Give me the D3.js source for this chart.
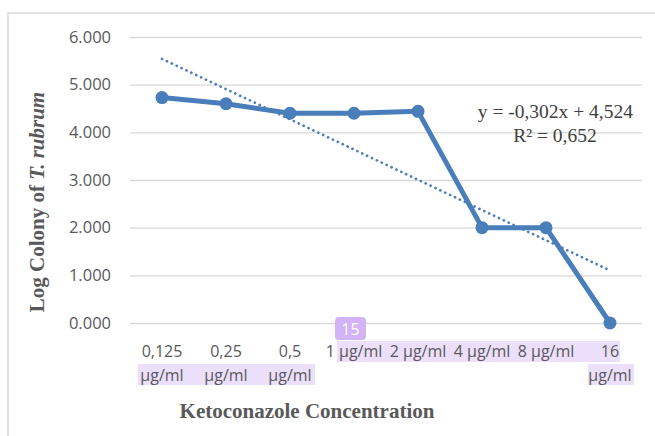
<!DOCTYPE html>
<html lang="en">
<head>
<meta charset="utf-8">
<title>Log Colony of T. rubrum</title>
<script src="https://d3js.org/d3.v7.min.js"></script>
<style>
  body { margin: 0; background: #fff; }
  svg { display: block; }
</style>
</head>
<body>
<script>
// chart data
var categories = ["0,125 µg/ml", "0,25 µg/ml", "0,5 µg/ml", "1 µg/ml", "2 µg/ml", "4 µg/ml", "8 µg/ml", "16 µg/ml"];
var tickLines = [["0,125", "µg/ml"], ["0,25", "µg/ml"], ["0,5", "µg/ml"], ["1 µg/ml"], ["2 µg/ml"], ["4 µg/ml"], ["8 µg/ml"], ["16", "µg/ml"]];
var logColony = [4.73, 4.60, 4.40, 4.40, 4.44, 2.00, 2.00, 0.00];
var yTicks = [0, 1, 2, 3, 4, 5, 6];
var equationText = "y = -0,302x + 4,524";
var r2Text = "R² = 0,652";

var w = 655, h = 436;
var margin = {left: 130, right: 13, top: 37, bottom: 113};

var svg = d3.select("body").append("svg")
  .attr("width", w).attr("height", h);

// outer chart frame
svg.append("rect")
  .attr("x", 8).attr("y", 13)
  .attr("width", 700).attr("height", 500)
  .attr("fill", "none")
  .attr("stroke", "#d9d9d9")
  .attr("stroke-width", 1.5);

var x = d3.scaleBand()
  .domain(categories)
  .range([margin.left, w - margin.right]);

var y = d3.scaleLinear()
  .domain([0, 6])
  .range([h - margin.bottom, margin.top]);

// gridlines + y labels
var yAxis = d3.axisLeft(y)
  .tickValues(yTicks)
  .tickSize(-(w - margin.right - margin.left))
  .tickPadding(19)
  .tickFormat(d3.format(".3f"));

var gy = svg.append("g")
  .attr("transform", "translate(" + margin.left + ",0)")
  .call(yAxis);
gy.select(".domain").remove();
gy.selectAll(".tick line").attr("stroke", "#d9d9d9").attr("stroke-width", 1.3);
gy.selectAll(".tick text")
  .attr("fill", "#595959")
  .style("font-family", "'Open Sans', sans-serif")
  .style("font-size", "16.5px");

// selection highlights behind the category labels (as in the source picture)
var hl = svg.append("g").attr("fill", "#ecdffc");
hl.append("rect").attr("x", 337).attr("y", 341).attr("width", 283).attr("height", 21);
hl.append("rect").attr("x", 138).attr("y", 364).attr("width", 177).attr("height", 21);
hl.append("rect").attr("x", 588).attr("y", 364).attr("width", 46).attr("height", 21);

// category labels
var gx = svg.append("g")
  .attr("fill", "#595959")
  .style("font-family", "'Open Sans', sans-serif")
  .style("font-size", "16px")
  .attr("text-anchor", "middle");

gx.selectAll("text")
  .data(categories)
  .enter().append("text")
  .attr("x", function(d) { return x(d) + x.bandwidth() / 2; })
  .attr("y", 357)
  .each(function(d, i) {
    var t = d3.select(this);
    tickLines[i].forEach(function(line, k) {
      t.append("tspan")
        .attr("x", x(d) + x.bandwidth() / 2)
        .attr("dy", k === 0 ? 0 : 23.5)
        .text(line);
    });
  });

// least squares trendline over category index
var n = logColony.length;
var xs = d3.range(1, n + 1);
var mx = d3.mean(xs), my = d3.mean(logColony);
var sxy = d3.sum(xs, function(v, i) { return (v - mx) * (logColony[i] - my); });
var sxx = d3.sum(xs, function(v) { return (v - mx) * (v - mx); });
var slope = sxy / sxx;
var intercept = my - slope * mx;

var cx = function(i) { return x(categories[i]) + x.bandwidth() / 2; };

svg.append("line")
  .attr("x1", cx(0)).attr("y1", y(intercept + slope * 1))
  .attr("x2", cx(n - 1)).attr("y2", y(intercept + slope * n))
  .attr("stroke", "#4a7ebb")
  .attr("stroke-width", 2.7)
  .attr("stroke-linecap", "round")
  .attr("stroke-dasharray", "0.1 5.3");

// data line
var line = d3.line()
  .x(function(d, i) { return cx(i); })
  .y(function(d) { return y(d); });

svg.append("path")
  .datum(logColony)
  .attr("d", line)
  .attr("fill", "none")
  .attr("stroke", "#4a7ebb")
  .attr("stroke-width", 5)
  .attr("stroke-linejoin", "round");

svg.selectAll("circle.pt")
  .data(logColony)
  .enter().append("circle")
  .attr("class", "pt")
  .attr("cx", function(d, i) { return cx(i); })
  .attr("cy", function(d) { return y(d); })
  .attr("r", 6.5)
  .attr("fill", "#4a7ebb");

// equation label
var eq = svg.append("g")
  .attr("fill", "#404040")
  .style("font-family", "'Liberation Serif', 'Times New Roman', serif")
  .style("font-size", "19.5px");
eq.append("text").attr("x", 633).attr("y", 118).attr("text-anchor", "end").text(equationText);
eq.append("text").attr("x", 555).attr("y", 142).attr("text-anchor", "middle").text(r2Text);

// axis titles
var yt = svg.append("text")
  .attr("transform", "translate(44,202) rotate(-90)")
  .attr("text-anchor", "middle")
  .attr("fill", "#595959")
  .style("font-family", "'Liberation Serif', 'Times New Roman', serif")
  .style("font-size", "21px")
  .style("font-weight", "bold");
yt.append("tspan").text("Log Colony of ");
yt.append("tspan").style("font-style", "italic").text("T. rubrum");

svg.append("text")
  .attr("x", 307).attr("y", 418)
  .attr("text-anchor", "middle")
  .attr("fill", "#595959")
  .style("font-family", "'Liberation Serif', 'Times New Roman', serif")
  .style("font-size", "21px")
  .style("font-weight", "bold")
  .text("Ketoconazole Concentration");

// page number badge sitting over the chart
svg.append("rect")
  .attr("x", 335).attr("y", 317)
  .attr("width", 31).attr("height", 23)
  .attr("rx", 4)
  .attr("fill", "#d2b3f7");
svg.append("text")
  .attr("x", 350.5).attr("y", 335)
  .attr("text-anchor", "middle")
  .attr("fill", "#fff")
  .style("font-family", "'Open Sans', sans-serif")
  .style("font-size", "16px")
  .text("15");
</script>
</body>
</html>
